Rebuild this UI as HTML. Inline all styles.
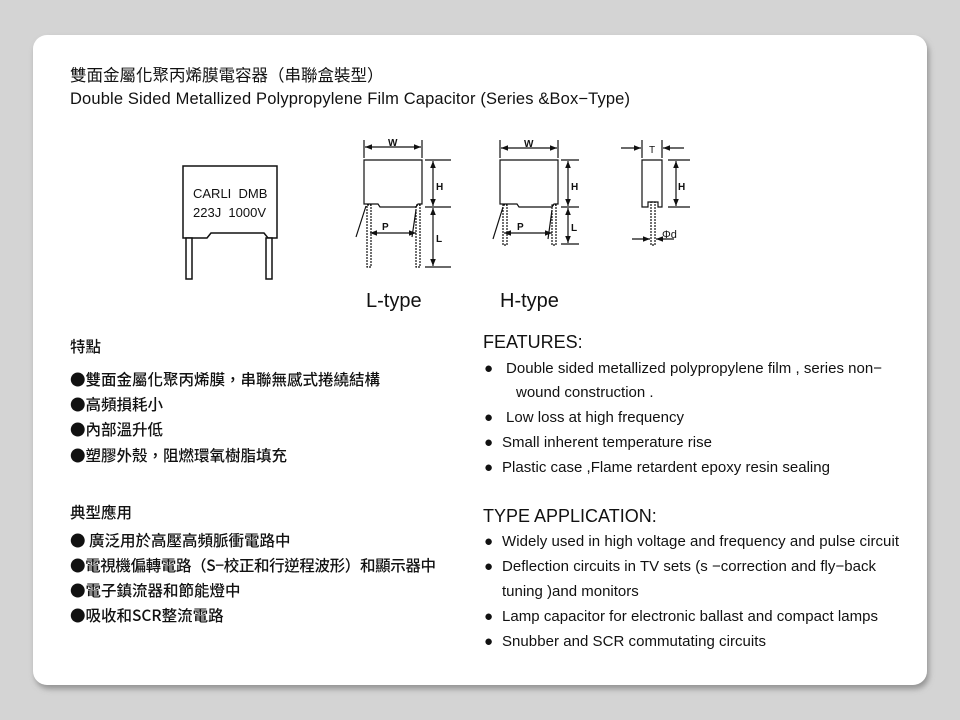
<!DOCTYPE html>
<html><head><meta charset="utf-8"><style>
html,body{margin:0;padding:0;background:#d4d4d4;}
svg{display:block}
text{font-family:"Liberation Sans","Noto Sans CJK TC",sans-serif;fill:#111}
.cj{font-family:"Noto Sans CJK TC","Liberation Sans",sans-serif;font-size:15.5px;font-weight:500}
.en{font-size:15px}
.sm{font-size:10px;font-weight:bold}
</style></head><body>
<svg width="960" height="720" viewBox="0 0 960 720" xmlns="http://www.w3.org/2000/svg">
<defs>
<filter id="sh" x="-5%" y="-5%" width="110%" height="110%"><feDropShadow dx="2" dy="4" stdDeviation="3" flood-color="#777" flood-opacity="0.7"/></filter>
<marker id="a" viewBox="0 0 10 10" refX="10" refY="5" markerWidth="6" markerHeight="6" orient="auto-start-reverse"><path d="M0,1 L10,5 L0,9z" fill="#111"/></marker>
</defs>
<rect x="0" y="0" width="960" height="720" fill="#d4d4d4"/>
<rect x="33" y="35" width="894" height="650" rx="14" fill="#fff" filter="url(#sh)"/>

<text x="70" y="81" style="font-size:16.5px">雙面金屬化聚丙烯膜電容器（串聯盒裝型）</text>
<text x="70" y="104" style="font-size:16.5px" textLength="560">Double Sided Metallized Polypropylene Film Capacitor (Series &amp;Box−Type)</text>

<!-- front capacitor -->
<g stroke="#111" stroke-width="1.5" fill="#fff">
<path d="M183,166 H277 V238 H268 L264,233 H211 L207,238 H183 Z"/>
<rect x="186" y="238" width="6" height="41" fill="#fff"/>
<rect x="266" y="238" width="6" height="41" fill="#fff"/>
</g>
<text x="193" y="198" style="font-size:13px" xml:space="preserve">CARLI  DMB</text>
<text x="193" y="217" style="font-size:13px" xml:space="preserve">223J  1000V</text>

<!-- L-type -->
<g stroke="#111" stroke-width="1.2" fill="none">
<path d="M364,160 H422 V204 H418 L416,207 H380 L378,204 H364 Z"/>
<rect x="367" y="205" width="4" height="62" stroke-dasharray="2,1"/>
<rect x="416" y="205" width="4" height="62" stroke-dasharray="2,1"/>
<line x1="364" y1="140" x2="364" y2="158"/><line x1="422" y1="140" x2="422" y2="158"/>
<line x1="365" y1="147" x2="421" y2="147" marker-start="url(#a)" marker-end="url(#a)"/>
<line x1="425" y1="160" x2="451" y2="160"/><line x1="425" y1="207" x2="451" y2="207"/><line x1="425" y1="267" x2="451" y2="267"/>
<line x1="433" y1="161" x2="433" y2="206" marker-start="url(#a)" marker-end="url(#a)"/>
<line x1="433" y1="208" x2="433" y2="266" marker-start="url(#a)" marker-end="url(#a)"/>
<line x1="370" y1="233" x2="416" y2="233" marker-start="url(#a)" marker-end="url(#a)"/>
<line x1="356" y1="237" x2="366" y2="206"/><line x1="412" y1="237" x2="416" y2="210"/>
</g>
<text x="388" y="146" class="sm">W</text><text x="436" y="190" class="sm">H</text><text x="436" y="242" class="sm">L</text><text x="382" y="230" class="sm">P</text>

<!-- H-type -->
<g stroke="#111" stroke-width="1.2" fill="none">
<path d="M500,160 H558 V204 H554 L552,207 H519 L517,204 H500 Z"/>
<rect x="503" y="205" width="4" height="40" stroke-dasharray="2,1"/>
<rect x="552" y="205" width="4" height="40" stroke-dasharray="2,1"/>
<line x1="500" y1="140" x2="500" y2="158"/><line x1="558" y1="140" x2="558" y2="158"/>
<line x1="501" y1="148" x2="557" y2="148" marker-start="url(#a)" marker-end="url(#a)"/>
<line x1="561" y1="160" x2="579" y2="160"/><line x1="561" y1="207" x2="579" y2="207"/><line x1="561" y1="244" x2="579" y2="244"/>
<line x1="568" y1="161" x2="568" y2="206" marker-start="url(#a)" marker-end="url(#a)"/>
<line x1="568" y1="208" x2="568" y2="243" marker-start="url(#a)" marker-end="url(#a)"/>
<line x1="504" y1="233" x2="552" y2="233" marker-start="url(#a)" marker-end="url(#a)"/>
<line x1="493" y1="239" x2="503" y2="207"/><line x1="548" y1="239" x2="552" y2="210"/>
</g>
<text x="524" y="147" class="sm">W</text><text x="571" y="190" class="sm">H</text><text x="571" y="231" class="sm">L</text><text x="517" y="230" class="sm">P</text>

<!-- side view -->
<g stroke="#111" stroke-width="1.2" fill="none">
<path d="M642,160 H662 V207 H658 V202 H648 V207 H642 Z"/>
<rect x="651" y="202" width="4" height="43" stroke-dasharray="2,1"/>
<line x1="642" y1="140" x2="642" y2="158"/><line x1="662" y1="140" x2="662" y2="158"/>
<line x1="621" y1="148" x2="641" y2="148" marker-end="url(#a)"/><line x1="684" y1="148" x2="663" y2="148" marker-end="url(#a)"/>
<line x1="668" y1="160" x2="690" y2="160"/><line x1="668" y1="207" x2="690" y2="207"/>
<line x1="676" y1="161" x2="676" y2="206" marker-start="url(#a)" marker-end="url(#a)"/>
<line x1="632" y1="239" x2="650" y2="239" marker-end="url(#a)"/><line x1="674" y1="239" x2="656" y2="239" marker-end="url(#a)"/>
</g>
<text x="649" y="153" style="font-size:10px">T</text><text x="678" y="190" class="sm">H</text><text x="662" y="238" style="font-size:11px">Φd</text>

<text x="366" y="307" style="font-size:20px">L-type</text>
<text x="500" y="307" style="font-size:20px">H-type</text>

<!-- left Chinese -->
<text x="70" y="352" class="cj">特點</text>
<text x="70" y="385" class="cj">●雙面金屬化聚丙烯膜，串聯無感式捲繞結構</text>
<text x="70" y="410" class="cj">●高頻損耗小</text>
<text x="70" y="435" class="cj">●內部溫升低</text>
<text x="70" y="461" class="cj">●塑膠外殼，阻燃環氧樹脂填充</text>
<text x="70" y="518" class="cj">典型應用</text>
<text x="70" y="546" class="cj">● 廣泛用於高壓高頻脈衝電路中</text>
<text x="70" y="571" class="cj" textLength="366">●電視機偏轉電路（S−校正和行逆程波形）和顯示器中</text>
<text x="70" y="596" class="cj">●電子鎮流器和節能燈中</text>
<text x="70" y="621" class="cj">●吸收和SCR整流電路</text>

<!-- right English -->
<text x="483" y="348" style="font-size:18px">FEATURES:</text>
<text x="484" y="373" class="en">●</text><text x="506" y="373" class="en" textLength="376">Double sided metallized polypropylene film , series non−</text>
<text x="516" y="397" class="en">wound construction .</text>
<text x="484" y="422" class="en">●</text><text x="506" y="422" class="en" textLength="178">Low loss at high frequency</text>
<text x="484" y="447" class="en">●</text><text x="502" y="447" class="en" textLength="210">Small inherent temperature rise</text>
<text x="484" y="472" class="en">●</text><text x="502" y="472" class="en" textLength="328">Plastic case ,Flame retardent epoxy resin sealing</text>
<text x="483" y="522" style="font-size:18px">TYPE APPLICATION:</text>
<text x="484" y="546" class="en">●</text><text x="502" y="546" class="en" textLength="397">Widely used in high voltage and frequency and pulse circuit</text>
<text x="484" y="571" class="en">●</text><text x="502" y="571" class="en" textLength="374">Deflection circuits in TV sets (s −correction and fly−back</text>
<text x="502" y="596" class="en">tuning )and monitors</text>
<text x="484" y="621" class="en">●</text><text x="502" y="621" class="en" textLength="376">Lamp capacitor for electronic ballast and compact lamps</text>
<text x="484" y="646" class="en">●</text><text x="502" y="646" class="en" textLength="264">Snubber and SCR commutating circuits</text>
</svg>
</body></html>
